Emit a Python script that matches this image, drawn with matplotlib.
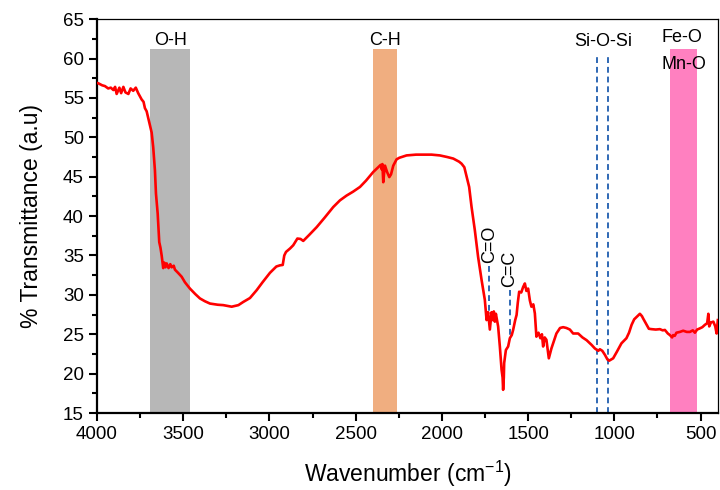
import matplotlib
matplotlib.use("Agg")
import matplotlib.pyplot as plt
from matplotlib.ticker import MultipleLocator

plt.rcParams['font.family'] = ['Liberation Sans', 'DejaVu Sans']
plt.rcParams['mathtext.fontset'] = 'custom'
plt.rcParams['mathtext.rm'] = 'Liberation Sans'
plt.rcParams['mathtext.it'] = 'Liberation Sans:italic'
plt.rcParams['mathtext.bf'] = 'Liberation Sans:bold'

wavenumber = [4000, 3992, 3970, 3954, 3935, 3920, 3905, 3895, 3886, 3870, 3860, 3847, 3835, 3818,
              3805, 3790, 3775, 3761, 3741, 3730, 3722, 3712, 3699, 3683, 3674, 3664, 3658, 3648,
              3639, 3632, 3625, 3616, 3610, 3603, 3596, 3585, 3575, 3567, 3555, 3548, 3530, 3509,
              3490, 3461, 3430, 3403, 3375, 3345, 3300, 3268, 3219, 3180, 3152, 3113, 3074, 3040,
              2997, 2960, 2939, 2923, 2914, 2904, 2880, 2862, 2838, 2820, 2804, 2770, 2726, 2680,
              2630, 2591, 2553, 2515, 2475, 2440, 2398, 2369, 2355, 2348, 2345, 2340, 2335, 2330,
              2318, 2305, 2295, 2282, 2263, 2247, 2205, 2150, 2108, 2060, 2012, 1970, 1934, 1900,
              1886, 1870, 1861, 1842, 1828, 1809, 1790, 1770, 1751, 1741, 1732, 1722, 1712, 1705,
              1699, 1693, 1687, 1674, 1664, 1654, 1648, 1645, 1641, 1639, 1629, 1616, 1606, 1595,
              1587, 1575, 1567, 1560, 1552, 1540, 1529, 1519, 1510, 1500, 1490, 1481, 1470, 1461,
              1452, 1440, 1429, 1420, 1413, 1404, 1394, 1380, 1365, 1350, 1336, 1315, 1297, 1278,
              1258, 1239, 1210, 1185, 1161, 1132, 1113, 1093, 1084, 1070, 1055, 1040, 1030, 1007,
              985, 959, 930, 915, 900, 885, 871, 852, 840, 833, 813, 800, 784, 760, 736, 720, 707,
              690, 678, 665, 659, 650, 640, 620, 601, 580, 562, 545, 533, 520, 504, 490, 475, 462,
              455, 450, 440, 426, 415, 407, 400]
transmittance = [56.9, 56.85, 56.6, 56.5, 56.2, 56.3, 56.0, 56.4, 55.5, 56.3, 55.6, 56.4, 55.7, 55.5,
                 56.2, 55.9, 56.3, 55.6, 54.8, 54.5, 53.7, 53.3, 52.1, 50.6, 48.75, 45.8, 42.85, 40.3,
                 36.7, 36.0, 35.0, 33.4, 34.1, 33.5, 34.0, 33.4, 33.9, 33.5, 33.7, 33.2, 32.8, 32.3,
                 31.6, 30.8, 30.1, 29.55, 29.2, 28.9, 28.75, 28.7, 28.5, 28.7, 29.1, 29.6, 30.6, 31.6,
                 32.8, 33.6, 33.75, 33.8, 35.0, 35.45, 35.9, 36.3, 37.15, 37.1, 36.85, 37.6, 38.6, 39.8,
                 41.15, 42.0, 42.6, 43.1, 43.7, 44.5, 45.6, 46.2, 46.5, 45.9, 46.6, 44.3, 45.5, 46.4,
                 45.6, 44.95, 45.3, 46.4, 47.2, 47.4, 47.7, 47.8, 47.8, 47.8, 47.7, 47.5, 47.3, 46.9,
                 46.65, 46.2, 45.4, 43.7, 41.15, 38.2, 34.8, 31.9, 29.35, 26.8, 27.8, 25.6, 27.8, 26.8,
                 27.9, 26.6, 27.6, 26.0, 23.45, 20.5, 19.5, 17.95, 19.5, 21.35, 23.0, 23.45, 24.5, 24.9,
                 25.55, 26.8, 27.45, 29.0, 30.4, 30.3, 31.0, 31.45, 30.5, 30.8, 29.3, 28.5, 28.8, 27.65,
                 24.7, 25.2, 24.5, 25.0, 23.45, 24.6, 24.3, 21.95, 23.2, 24.2, 25.1, 25.8, 25.9, 25.8,
                 25.6, 25.1, 25.1, 24.6, 24.25, 23.65, 23.2, 22.9, 23.1, 22.9, 22.4, 21.8, 21.65, 21.95,
                 22.8, 23.85, 24.5, 25.2, 26.2, 26.9, 27.2, 27.6, 27.3, 27.0, 26.2, 25.7, 25.65, 25.6,
                 25.65, 25.5, 25.55, 25.1, 24.9, 24.6, 24.9, 24.8, 25.2, 25.3, 25.45, 25.3, 25.3, 25.5,
                 25.2, 25.6, 25.75, 25.9, 26.2, 26.4, 27.6, 26.0, 26.5, 26.6, 26.0, 25.1, 26.8]

band_labels = ['O-H', 'C-H', 'Fe-O']
band_ranges = [(3690, 3460), (2400, 2260), (675, 520)]
band_colors = ['#B7B7B7', '#F0AE80', '#FF80C0']
band_top = 61.2

si_lines = [1100, 1035]
peak_labels = ['C=O', 'C=C']
peak_pos = [1726, 1605]
peak_line_spans = [(33.7, 27.9), (30.6, 24.5)]
peak_label_base = [34.1, 31.0]

fig = plt.figure(figsize=(7.2, 4.9), dpi=100)
ax = fig.add_axes([0.1347, 0.157, 0.8623, 0.804])

for (a, b), c in zip(band_ranges, band_colors):
    ax.fill_between([b, a], 15, band_top, color=c, lw=0, zorder=1)

dash_col = '#2F68B4'
for xv in si_lines:
    ax.plot([xv, xv], [15, 60.4], color=dash_col, lw=1.4, ls=(0, (3, 2)), zorder=2)
for xv, (y1, y2) in zip(peak_pos, peak_line_spans):
    ax.plot([xv, xv], [y1, y2], color=dash_col, lw=1.4, ls=(0, (3, 2)), zorder=2)

ax.plot(wavenumber, transmittance, color='#FF0000', lw=1.9, zorder=3)

fs = 13
ax.text(3575, 62.3, 'O-H', ha='center', va='center', fontsize=fs)
ax.text(2330, 62.3, 'C-H', ha='center', va='center', fontsize=fs)
ax.text(1065, 62.2, 'Si-O-Si', ha='center', va='center', fontsize=fs)
ax.text(726, 62.7, 'Fe-O', ha='left', va='center', fontsize=fs)
ax.text(726, 59.3, 'Mn-O', ha='left', va='center', fontsize=fs)
for lab, xv, yb in zip(peak_labels, peak_pos, peak_label_base):
    ax.text(xv, yb, lab, ha='center', va='bottom', rotation=90, fontsize=fs)

ax.set_xlim(4000, 400)
ax.set_ylim(15, 65)
ax.xaxis.set_major_locator(MultipleLocator(500))
ax.xaxis.set_minor_locator(MultipleLocator(250))
ax.yaxis.set_major_locator(MultipleLocator(5))
ax.yaxis.set_minor_locator(MultipleLocator(2.5))
ax.tick_params(which='major', direction='out', length=6, width=1.5, labelsize=13.5)
ax.tick_params(which='minor', direction='out', length=3.5, width=1.5)
for s in ['left', 'bottom']:
    ax.spines[s].set_linewidth(1.6)
for s in ['top', 'right']:
    ax.spines[s].set_linewidth(0.9)

ax.set_xlabel('Wavenumber (cm$^{-1}$)', fontsize=16.5, labelpad=11)
ax.set_ylabel('% Transmittance (a.u)', fontsize=16.5, labelpad=14)

fig.savefig('out.png', dpi=100)
